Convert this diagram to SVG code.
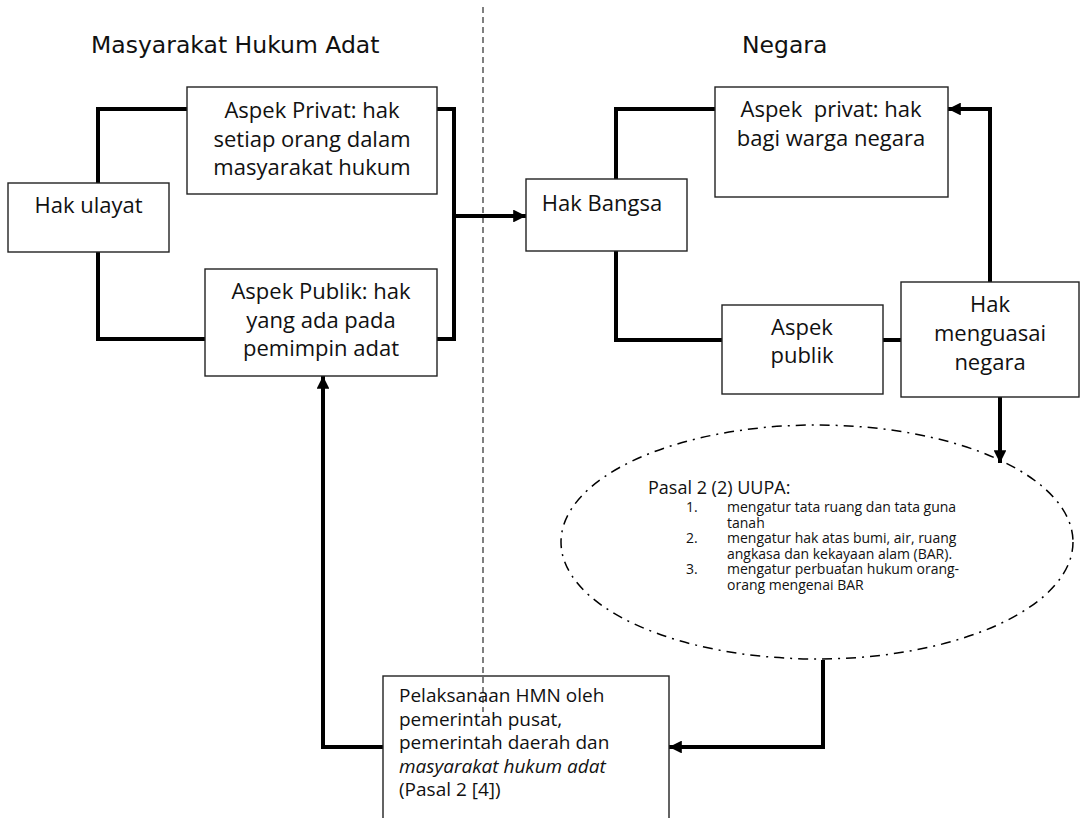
<svg xmlns="http://www.w3.org/2000/svg" width="1085" height="818" viewBox="0 0 1085 818">
<defs>
<marker id="ah" viewBox="0 0 10 10" refX="10" refY="5" markerWidth="3.4" markerHeight="3.2" markerUnits="strokeWidth" orient="auto">
<path d="M0,0 L10,5 L0,10 z" fill="#000"/>
</marker>
</defs>
<style>
.box{fill:#fff;stroke:#222;stroke-width:1.4}
.t{font-family:"Open Sans","Noto Sans",sans-serif;font-size:22px;fill:#111;text-anchor:middle}
.title{font-family:"DejaVu Sans",sans-serif;font-size:23.5px;fill:#111}
.con{fill:none;stroke:#000;stroke-width:4}
.arr{fill:none;stroke:#000;stroke-width:4;marker-end:url(#ah)}
.small{font-family:"Open Sans","Noto Sans",sans-serif;font-size:14px;fill:#111}
.bt{font-family:"Open Sans","Noto Sans",sans-serif;font-size:19px;fill:#111}
</style>
<rect width="1085" height="818" fill="#fff"/>
<text class="title" x="91" y="53">Masyarakat Hukum Adat</text>
<text class="title" x="742" y="53">Negara</text>
<g id="connectors">
<path class="con" d="M187,109 H98 V183"/>
<path class="con" d="M98,252 V339 H205"/>
<path class="con" d="M437,109 H454 V339 H437"/>
<path class="arr" d="M454,216 H526"/>
<path class="con" d="M715,109 H616 V179"/>
<path class="con" d="M616,251 V340 H722"/>
<path class="con" d="M883,340 H901"/>
<path class="arr" d="M990,282 V109 H948"/>
<path class="arr" d="M1000,397 V463"/>
<path class="arr" d="M823,660 V747 H669"/>
<path class="arr" d="M383,747 H323 V376"/>
</g>
<g id="hak-ulayat">
<rect class="box" x="8" y="183" width="161" height="69"/>
<text class="t" x="88.5" y="213">Hak ulayat</text>
</g>
<g id="aspek-privat-adat">
<rect class="box" x="187" y="87" width="250" height="107"/>
<text class="t" x="312" y="118">Aspek Privat: hak</text>
<text class="t" x="312" y="147">setiap orang dalam</text>
<text class="t" x="312" y="175">masyarakat hukum</text>
</g>
<g id="aspek-publik-adat">
<rect class="box" x="205" y="269" width="232" height="107"/>
<text class="t" x="321" y="299">Aspek Publik: hak</text>
<text class="t" x="321" y="328">yang ada pada</text>
<text class="t" x="321" y="356">pemimpin adat</text>
</g>
<g id="hak-bangsa">
<rect class="box" x="526" y="179" width="161" height="72"/>
<text class="t" x="602" y="211">Hak Bangsa</text>
</g>
<g id="aspek-privat-negara">
<rect class="box" x="715" y="87" width="233" height="110"/>
<text class="t" x="831" y="117" xml:space="preserve">Aspek  privat: hak</text>
<text class="t" x="831" y="146">bagi warga negara</text>
</g>
<g id="aspek-publik-negara">
<rect class="box" x="722" y="305" width="161" height="89"/>
<text class="t" x="802" y="335">Aspek</text>
<text class="t" x="802" y="363">publik</text>
</g>
<g id="hak-menguasai-negara">
<rect class="box" x="901" y="282" width="178" height="115"/>
<text class="t" x="990" y="312">Hak</text>
<text class="t" x="990" y="341">menguasai</text>
<text class="t" x="990" y="370">negara</text>
</g>
<g id="pasal-uupa">
<ellipse cx="817" cy="542" rx="256" ry="117" fill="none" stroke="#000" stroke-width="1.5" stroke-dasharray="10 6 2 6"/>
<text class="small" x="648" y="494" style="font-size:18px">Pasal 2 (2) UUPA:</text>
<text class="small" x="686" y="512">1.</text>
<text class="small" x="727" y="512">mengatur tata ruang dan tata guna</text>
<text class="small" x="727" y="527.5">tanah</text>
<text class="small" x="686" y="543">2.</text>
<text class="small" x="727" y="543">mengatur hak atas bumi, air, ruang</text>
<text class="small" x="727" y="558.5">angkasa dan kekayaan alam (BAR).</text>
<text class="small" x="686" y="574">3.</text>
<text class="small" x="727" y="574">mengatur perbuatan hukum orang-</text>
<text class="small" x="727" y="589.5">orang mengenai BAR</text>
</g>
<g id="pelaksanaan-hmn">
<rect class="box" x="383" y="676" width="286" height="150"/>
<text class="bt" x="399" y="702">Pelaksanaan HMN oleh</text>
<text class="bt" x="399" y="725.5">pemerintah pusat,</text>
<text class="bt" x="399" y="749">pemerintah daerah dan</text>
<text class="bt" x="399" y="772.5" font-style="italic">masyarakat hukum adat</text>
<text class="bt" x="399" y="796">(Pasal 2 [4])</text>
</g>
<line id="divider" x1="483" y1="7" x2="483" y2="712" stroke="#000" stroke-width="1" stroke-dasharray="6 4"/>
</svg>
